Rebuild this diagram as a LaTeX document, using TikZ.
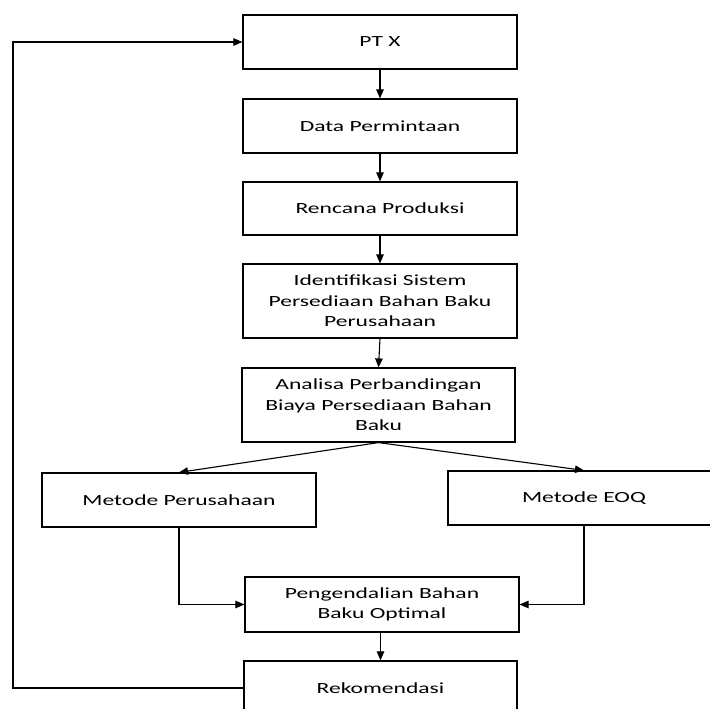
\documentclass[tikz,border=0pt]{standalone}
\usepackage{fontspec}
\setmainfont{Carlito}[FakeStretch=1.52]
\usetikzlibrary{arrows.meta}
\begin{document}
\begin{tikzpicture}[x=1pt,y=-1pt,
  box/.style={draw=black,line width=1.2pt,fill=white,align=center,inner sep=0pt,
    font=\fontsize{15.5}{20.5}\selectfont,minimum width=274pt,minimum height=54pt},
  arr/.style={draw=black,line width=1.1pt,-{Triangle[length=9pt,width=7.5pt]}},
  ln/.style={draw=black,line width=1.1pt}]
\useasboundingbox (0,0) rectangle (710,709);
\begin{scope}
\clip (0,0) rectangle (710,709);
\node[box] (ptx) at (380,42) {PT X};
\node[box] (data) at (380,126) {Data Permintaan};
\node[box,minimum height=53pt] (renc) at (380,208.5) {Rencana Produksi};
\node[box,minimum height=74pt] (ident) at (380,301) {Identifikasi Sistem\\Persediaan Bahan Baku\\Perusahaan};
\node[box,minimum width=273pt,minimum height=74pt] (anal) at (378.5,405) {Analisa Perbandingan\\Biaya Persediaan Bahan\\Baku};
\node[box] (mp) at (179,500) {Metode Perusahaan};
\node[box,minimum width=272pt] (eoq) at (584,498) {Metode EOQ};
\node[box,minimum height=55pt] (peng) at (382,604.5) {Pengendalian Bahan\\Baku Optimal};
\node[box,minimum width=273pt] (rek) at (380.5,688) {Rekomendasi};
\coordinate (lp) at (13,688);

\draw[arr] (ptx.south) -- (data.north);
\draw[arr] (data.south) -- (renc.north);
\draw[arr] (renc.south) -- (ident.north);
\draw[arr] (ident.south) -- (anal.north);
\draw[arr] (anal.south) -- (mp.north);
\draw[arr] (anal.south) -- (eoq.north);
\draw[arr] (mp.south) |- (peng.west);
\draw[arr] (eoq.south) |- (peng.east);
\draw[arr] (peng.south -| rek.north) -- (rek.north);
\draw[arr] (rek.west) -- (lp) |- (ptx.west);
\end{scope}
\end{tikzpicture}
\end{document}
